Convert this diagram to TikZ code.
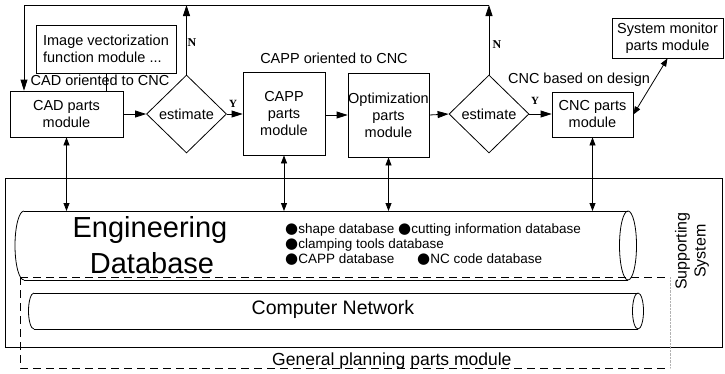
\documentclass[tikz,border=0pt]{standalone}
\usepackage{fontspec}
\setmainfont{Liberation Sans}
\newfontfamily\serifN{Liberation Serif}
\newfontfamily\dejavu{DejaVu Sans}
\usetikzlibrary{shapes.geometric,arrows.meta}
\newcommand{\bulmark}{{\dejavu\fontsize{15}{15}\selectfont ●}}
\begin{document}
\begin{tikzpicture}[x=1pt,y=-1pt,
 every node/.style={font=\fontsize{14.5}{17}\selectfont, inner sep=0pt},
 box/.style={draw, line width=0.8pt, align=center},
 dia/.style={draw, diamond, line width=0.8pt, minimum width=80pt, minimum height=78pt, inner sep=0pt},
 conn/.style={line width=0.8pt},
 arr/.style={conn, -{Triangle[length=11pt,width=7pt]}},
 darr/.style={conn, {Triangle[length=8pt,width=6pt]}-{Triangle[length=8pt,width=6pt]}},
 yn/.style={font=\serifN\bfseries\fontsize{11}{13}\selectfont},
 dsh/.style={line width=0.8pt, dash pattern=on 8pt off 5pt},
 bul/.style={font=\fontsize{13.5}{15}\selectfont, anchor=base west}
]
\useasboundingbox (0,0) rectangle (725,373);

% supporting system frame
\node[box, minimum width=717pt, minimum height=169pt] (sup) at (363.5,262.5) {};
\node[rotate=90, align=center, font=\fontsize{16}{19}\selectfont] (suptxt) at (692,251) {Supporting\\System};

% upper modules
\node[box, align=left, minimum width=140pt, minimum height=48pt] (img) at (106,49) {Image vectorization\\function module ...};
\node[box, minimum width=113pt, minimum height=46pt] (cad) at (66.5,114) {CAD parts\\module};
\node[dia] (d1) at (186.5,114) {estimate};
\node[box, minimum width=82pt, minimum height=83pt] (capp) at (284,113.5) {CAPP\\parts\\module};
\node[box, minimum width=81pt, minimum height=84pt] (opt) at (388.5,115) {Optimization\\parts\\module};
\node[dia] (d2) at (489,114) {estimate};
\node[box, minimum width=81pt, minimum height=45pt] (cnc) at (592.5,114.5) {CNC parts\\module};
\node[box, minimum width=111pt, minimum height=40pt] (sys) at (667.5,38) {System monitor\\parts module};

% labels
\node (l1) at (100,80) {CAD oriented to CNC};
\node (l2) at (334,58) {CAPP oriented to CNC};
\node (l3) at (579,80) {CNC based on design};
\node[yn] (y1) at (233,104) {Y};
\node[yn] (y2) at (535,101) {Y};
\node[yn, font=\serifN\bfseries\fontsize{12}{14}\selectfont] (n1) at (192,43) {N};
\node[yn, font=\serifN\bfseries\fontsize{12}{14}\selectfont] (n2) at (497,45) {N};

% flow arrows
\draw[conn] (img.south) -- (img.south |- cad.north);
\draw[arr] (cad.east) -- (d1.west);
\draw[arr] (d1.east) -- (d1.east -| capp.west);
\draw[arr] (capp.east |- opt.west) -- (opt.west);
\draw[arr] (opt.east) -- (d2.west);
\draw[arr] (d2.east) -- (d2.east -| cnc.west);
\draw[darr] (sys.south) -- (cnc.east);

% feedback
\coordinate (topL) at (24,5);
\coordinate (topR) at (d2.north |- topL);
\draw[arr] (d1.north) -- (d1.north |- topL);
\draw[arr] (d2.north) -- (topR);
\draw[arr] (topR) -- (topL) -- (topL |- cad.north);

% engineering database cylinder
\coordinate (dbtop) at (24,211);
\draw[conn] (24,211) -- (628,211) (24,280) -- (628,280);
\draw[conn] (24,211) arc[start angle=270, end angle=90, x radius=9, y radius=34.5];
\draw[conn] (628,245.5) ellipse[x radius=8.5, y radius=34.5];
\node[anchor=base, font=\fontsize{29}{35}\selectfont] (eng) at (150,237) {Engineering};
\node[anchor=base, font=\fontsize{29}{35}\selectfont] (dbase) at (152,273) {Database};
\node[bul] (b1) at (285,233) {\bulmark shape database};
\node[bul] (b2) at (398,233) {\bulmark cutting information database};
\node[bul] (b3) at (285,248) {\bulmark clamping tools database};
\node[bul] (b4) at (285,263) {\bulmark CAPP database};
\node[bul] (b5) at (417,263) {\bulmark NC code database};

% vertical links to database
\draw[darr] (cad.south) -- (cad.south |- dbtop);
\draw[darr] (capp.south) -- (capp.south |- dbtop);
\draw[darr] (opt.south) -- (opt.south |- dbtop);
\draw[darr] (cnc.south) -- (cnc.south |- dbtop);

% computer network cylinder
\draw[conn] (34,293) -- (638,293) (34,329) -- (638,329);
\draw[conn] (34,293) arc[start angle=270, end angle=90, x radius=5.5, y radius=18];
\draw[conn] (638,311) ellipse[x radius=5.5, y radius=18];
\node[font=\fontsize{19.5}{23}\selectfont] (net) at (333,309) {Computer Network};

% general planning region
\draw[dsh] (20,277) -- (670,277);
\draw[dsh] (20,277) -- (20,368) -- (670,368);
\draw[gray!60, densely dotted] (670,277) -- (670,368);
\node[anchor=base west, font=\fontsize{17.5}{21}\selectfont] (gp) at (272,365) {General planning parts module};
\end{tikzpicture}
\end{document}
